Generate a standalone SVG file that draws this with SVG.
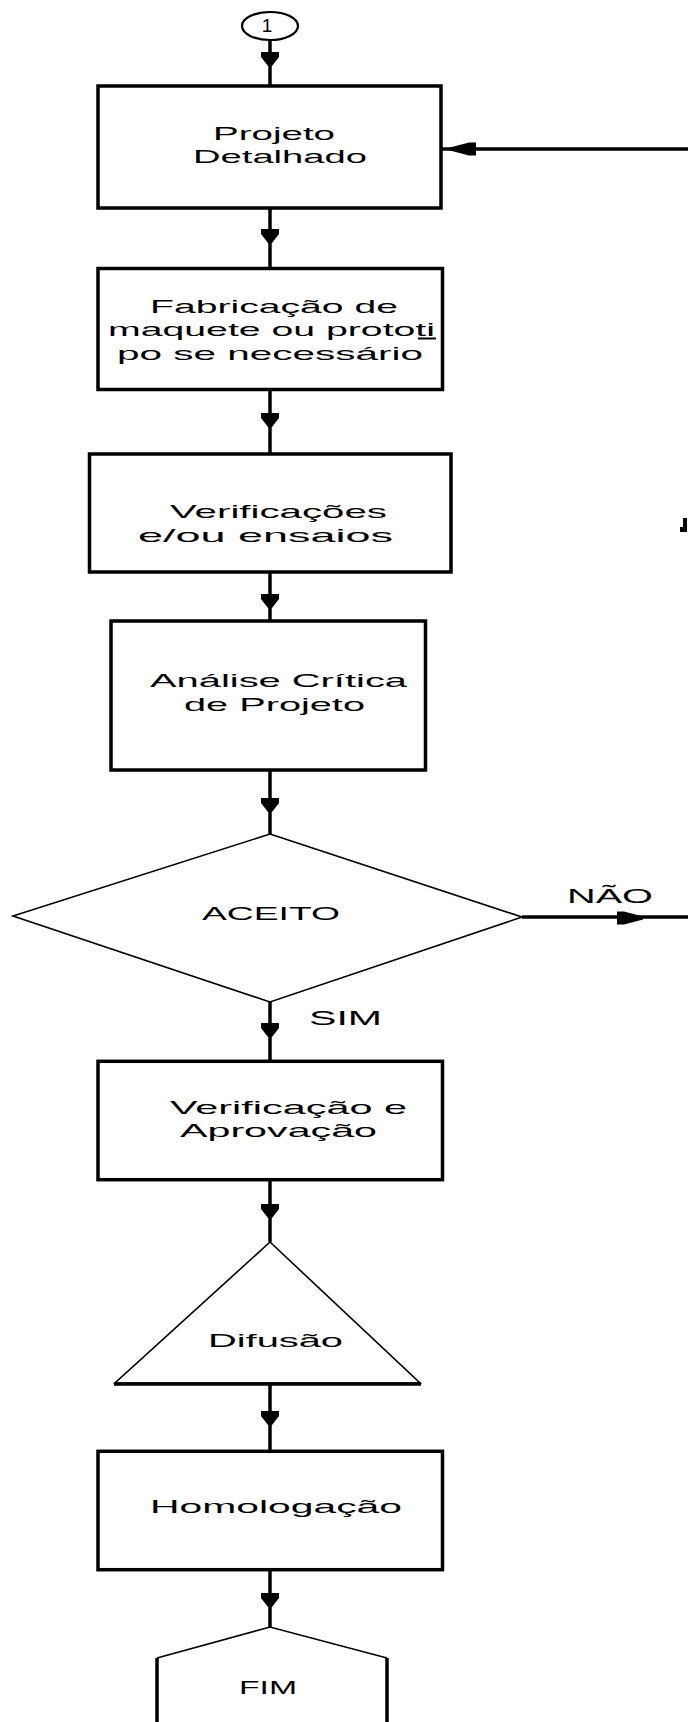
<svg xmlns="http://www.w3.org/2000/svg" xmlns:xlink="http://www.w3.org/1999/xlink" width="688" height="1722" viewBox="0 0 688 1722">
  <style>
    .box { fill: #fff; stroke: #000; stroke-width: 3.5; }
    .thin { fill: #fff; stroke: #000; stroke-width: 1.6; }
    .edge { fill: none; stroke: #000; stroke-width: 3.5; }
    .wire { fill: none; stroke: #000; stroke-width: 3.5; }
    .head { fill: #000; stroke: none; }
    .t { font-family: "Liberation Sans", Arial, sans-serif; font-size: 19px; fill: #000; }
    .lbl { font-family: "Liberation Sans", Arial, sans-serif; font-size: 21px; fill: #000; }
  </style>
  <defs>
    <!-- arrowhead pointing down, tip at origin -->
    <path id="down" d="M-9,-14 H9 V-9 L2,0 H-2 L-9,-9 Z"/>
    <!-- arrowhead pointing right, tip at origin -->
    <path id="right" d="M-26,-6.5 H-19 L0,-1.5 V1.5 L-19,6.5 H-26 Z"/>
  </defs>
  <rect width="688" height="1722" fill="#fff"/>

  <!-- connectors -->
  <g id="connectors">
    <line class="wire" x1="270" y1="40" x2="270" y2="86"/>
    <line class="wire" x1="270" y1="208" x2="270" y2="268"/>
    <line class="wire" x1="270" y1="390" x2="270" y2="454"/>
    <line class="wire" x1="270" y1="572" x2="270" y2="621"/>
    <line class="wire" x1="270" y1="770" x2="270" y2="834"/>
    <line class="wire" x1="270" y1="1002" x2="270" y2="1061"/>
    <line class="wire" x1="270" y1="1180" x2="270" y2="1242"/>
    <line class="wire" x1="270" y1="1384" x2="270" y2="1451"/>
    <line class="wire" x1="270" y1="1570" x2="270" y2="1627"/>
    <line class="wire" x1="522" y1="917" x2="688" y2="917" stroke-width="2.5"/>
    <line class="wire" x1="442" y1="149" x2="688" y2="149" stroke-width="2.5"/>
    <use class="head" xlink:href="#down" x="270" y="66"/>
    <use class="head" xlink:href="#down" x="270" y="243"/>
    <use class="head" xlink:href="#down" x="270" y="427"/>
    <use class="head" xlink:href="#down" x="270" y="608"/>
    <use class="head" xlink:href="#down" x="270" y="812"/>
    <use class="head" xlink:href="#down" x="270" y="1037"/>
    <use class="head" xlink:href="#down" x="270" y="1218"/>
    <use class="head" xlink:href="#down" x="270" y="1425"/>
    <use class="head" xlink:href="#down" x="270" y="1607"/>
    <use class="head" xlink:href="#right" transform="translate(643,918)"/>
    <use class="head" xlink:href="#right" transform="translate(450,149) rotate(180)"/>
    <text class="lbl" x="567" y="903" textLength="86" lengthAdjust="spacingAndGlyphs">NÃO</text>
    <text class="lbl" x="309" y="1025" textLength="73" lengthAdjust="spacingAndGlyphs">SIM</text>
    <!-- stub of a shape running off the right edge -->
    <path class="head" d="M683,518 H687 V532 H680 V527 H683 Z"/>
  </g>

  <g id="start">
    <ellipse cx="270" cy="26" rx="28" ry="14" fill="#fff" stroke="#000" stroke-width="2.2"/>
    <text class="t" x="267" y="32" font-size="20" text-anchor="middle">1</text>
  </g>

  <g id="projeto-detalhado">
    <rect class="box" x="98" y="86" width="343" height="122"/>
    <text class="t" x="213" y="140" textLength="122" lengthAdjust="spacingAndGlyphs">Projeto</text>
    <text class="t" x="193" y="163" textLength="174" lengthAdjust="spacingAndGlyphs">Detalhado</text>
  </g>

  <g id="fabricacao">
    <rect class="box" x="98" y="268.5" width="344.5" height="121"/>
    <text class="t" x="150" y="313" textLength="248" lengthAdjust="spacingAndGlyphs">Fabricação de</text>
    <text class="t" x="108" y="336" textLength="327" lengthAdjust="spacingAndGlyphs">maquete ou prototi</text>
    <line x1="418" y1="338.5" x2="436" y2="338.5" stroke="#000" stroke-width="2"/>
    <text class="t" x="117" y="360" textLength="306" lengthAdjust="spacingAndGlyphs">po se necessário</text>
  </g>

  <g id="verificacoes">
    <rect class="box" x="89.5" y="454" width="361.5" height="118"/>
    <text class="t" x="170" y="518" textLength="217" lengthAdjust="spacingAndGlyphs">Verificações</text>
    <text class="t" x="138" y="542" textLength="255" lengthAdjust="spacingAndGlyphs">e/ou ensaios</text>
  </g>

  <g id="analise-critica">
    <rect class="box" x="111" y="621" width="314.5" height="149"/>
    <text class="t" x="150" y="687" textLength="257" lengthAdjust="spacingAndGlyphs">Análise Crítica</text>
    <text class="t" x="184" y="711" textLength="181" lengthAdjust="spacingAndGlyphs">de Projeto</text>
  </g>

  <g id="aceito">
    <polygon class="thin" points="270,834 522,917 270,1002 13,916"/>
    <text class="t" x="202" y="920" textLength="138" lengthAdjust="spacingAndGlyphs">ACEITO</text>
  </g>

  <g id="verificacao-aprovacao">
    <rect class="box" x="98" y="1061.3" width="344.5" height="118.4"/>
    <text class="t" x="170" y="1114" textLength="237" lengthAdjust="spacingAndGlyphs">Verificação e</text>
    <text class="t" x="180" y="1137" textLength="197" lengthAdjust="spacingAndGlyphs">Aprovação</text>
  </g>

  <g id="difusao">
    <polygon class="thin" points="270,1242 420,1383 115,1383"/>
    <line class="edge" x1="114" y1="1384" x2="421" y2="1384" stroke-width="2.5"/>
    <text class="t" x="208" y="1347" textLength="135" lengthAdjust="spacingAndGlyphs">Difusão</text>
  </g>

  <g id="homologacao">
    <rect class="box" x="98" y="1451.3" width="344.5" height="118.4"/>
    <text class="t" x="150" y="1513" textLength="252" lengthAdjust="spacingAndGlyphs">Homologação</text>
  </g>

  <g id="fim">
    <polyline class="thin" fill="none" points="157,1658 270,1627 387,1658"/>
    <line class="edge" x1="157" y1="1658" x2="157" y2="1722"/>
    <line class="edge" x1="387" y1="1658" x2="387" y2="1722"/>
    <text class="t" x="239" y="1694" textLength="58" lengthAdjust="spacingAndGlyphs">FIM</text>
  </g>
</svg>
